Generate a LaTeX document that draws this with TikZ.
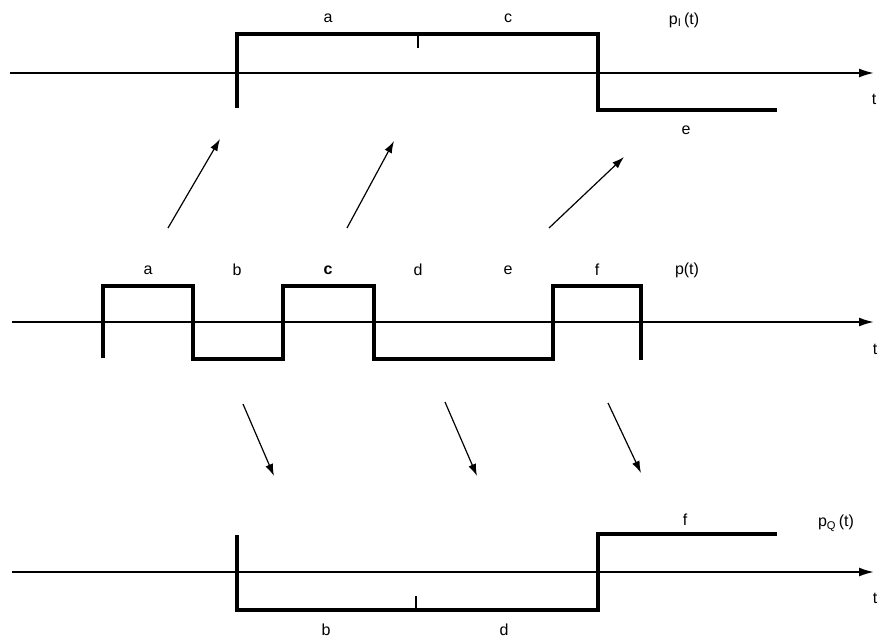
\documentclass[tikz,border=0pt]{standalone}
\usepackage{fontspec}
\setmainfont{Liberation Sans}
\usetikzlibrary{arrows.meta}
\begin{document}
\begin{tikzpicture}[x=1pt,y=-1pt,
  axis/.style={line width=1.8pt,-{Latex[length=15pt,width=9pt]}},
  wave/.style={line width=3.3pt,line join=miter,line cap=butt},
  tickmark/.style={line width=1.3pt},
  mapping/.style={line width=1.2pt,-{Latex[length=12pt,width=8pt]}},
  lbl/.style={font=\fontsize{16}{16}\selectfont,inner sep=0pt}]
\useasboundingbox (0,0) rectangle (880,639);
% axes
\coordinate (a1s) at (10,73); \coordinate (a1e) at (874,73);
\coordinate (a2s) at (12,322); \coordinate (a2e) at (874,322);
\coordinate (a3s) at (12,572); \coordinate (a3e) at (874,572);
\draw[axis] (a1s) -- (a1e);
\draw[axis] (a2s) -- (a2e);
\draw[axis] (a3s) -- (a3e);
% p_I(t)
\coordinate (i1) at (237,108); \coordinate (i2) at (237,34);
\coordinate (i3) at (598,34); \coordinate (i4) at (598,110);
\coordinate (i5) at (777,110);
\draw[wave] (i1) -- (i2) -- (i3) -- (i4) -- (i5);
\coordinate (it1) at (418,34); \coordinate (it2) at (418,48);
\draw[tickmark] (it1) -- (it2);
% p(t)
\coordinate (m1) at (103,358); \coordinate (m2) at (103,286);
\coordinate (m3) at (193,286); \coordinate (m4) at (193,359);
\coordinate (m5) at (283,359); \coordinate (m6) at (283,286);
\coordinate (m7) at (374,286); \coordinate (m8) at (374,359);
\coordinate (m9) at (553,359); \coordinate (m10) at (553,286);
\coordinate (m11) at (641,286); \coordinate (m12) at (641,360);
\draw[wave] (m1) -- (m2) -- (m3) -- (m4) -- (m5) -- (m6) -- (m7) -- (m8) -- (m9) -- (m10) -- (m11) -- (m12);
% p_Q(t)
\coordinate (q1) at (237,535); \coordinate (q2) at (237,610);
\coordinate (q3) at (598,610); \coordinate (q4) at (598,534);
\coordinate (q5) at (777,534);
\draw[wave] (q1) -- (q2) -- (q3) -- (q4) -- (q5);
\coordinate (qt1) at (416,610); \coordinate (qt2) at (416,596);
\draw[tickmark] (qt1) -- (qt2);
% mapping arrows
\coordinate (u1s) at (168,228); \coordinate (u1e) at (220,139);
\coordinate (u2s) at (347,228); \coordinate (u2e) at (394,141);
\coordinate (u3s) at (549,228); \coordinate (u3e) at (624,157);
\draw[mapping] (u1s) -- (u1e);
\draw[mapping] (u2s) -- (u2e);
\draw[mapping] (u3s) -- (u3e);
\coordinate (d1s) at (243,404); \coordinate (d1e) at (274,476);
\coordinate (d2s) at (445,402); \coordinate (d2e) at (477,476);
\coordinate (d3s) at (608,403); \coordinate (d3e) at (641,473);
\draw[mapping] (d1s) -- (d1e);
\draw[mapping] (d2s) -- (d2e);
\draw[mapping] (d3s) -- (d3e);
% labels top
\node[lbl] (ta) at (328,18) {a};
\node[lbl] (tc) at (508,18) {c};
\node[lbl] (tpi) at (684,20) {p\textsubscript{I}\,(t)};
\node[lbl] (te) at (686,130) {e};
\node[lbl] (tt1) at (874,99) {t};
% labels middle
\node[lbl] (ma) at (148,270) {a};
\node[lbl] (mb) at (237,270) {b};
\node[lbl] (mc) at (328,270) {\textbf{c}};
\node[lbl] (md) at (418,270) {d};
\node[lbl] (me) at (508,270) {e};
\node[lbl] (mf) at (597,270) {f};
\node[lbl] (mp) at (687,270) {p(t)};
\node[lbl] (tt2) at (875,349) {t};
% labels bottom
\node[lbl] (bf) at (685,520) {f};
\node[lbl] (bpq) at (836,523) {p\textsubscript{Q}\,(t)};
\node[lbl] (tt3) at (875,598) {t};
\node[lbl] (bb) at (326,630) {b};
\node[lbl] (bd) at (504,630) {d};
\end{tikzpicture}
\end{document}
